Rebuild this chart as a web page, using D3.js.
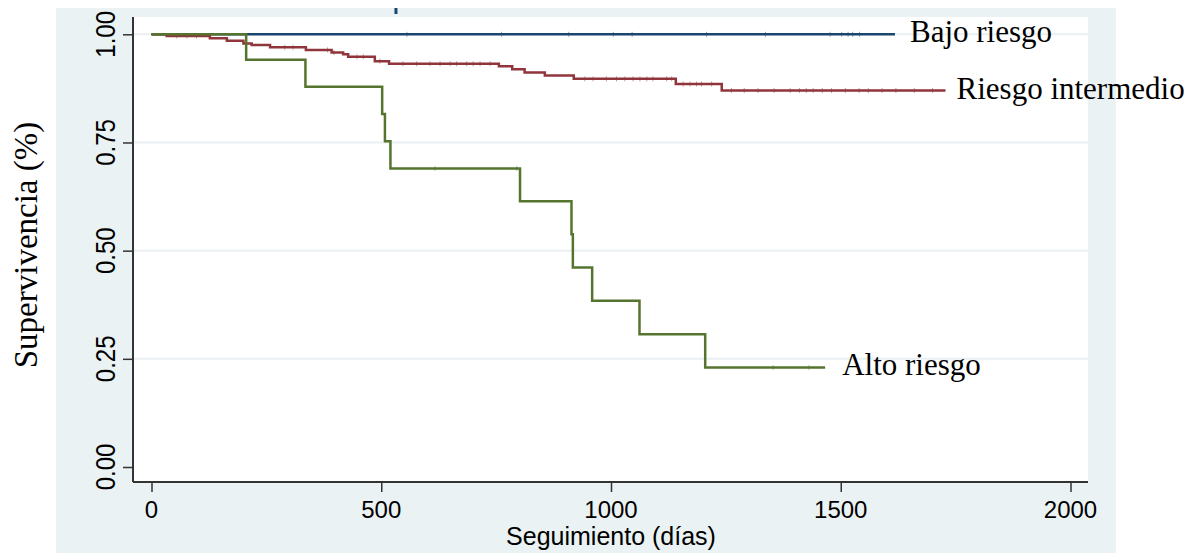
<!DOCTYPE html>
<html>
<head>
<meta charset="utf-8">
<script src="https://cdn.jsdelivr.net/npm/d3@7/dist/d3.min.js"></script>
<style>
    body { margin: 0; background: #fff; }
    svg { display: block; }
</style>
</head>
<body>
<svg id="chart" width="1200" height="553"></svg>
<script>
// Kaplan-Meier: supervivencia por grupo de riesgo

// step times (days) and survival after each step, last point = end of follow-up
var bajoTimes = [0, 1618];
var bajoSurv = [1, 1];
var bajoCensor = [556, 762, 908, 1005, 1046, 1208, 1336, 1477, 1502, 1516, 1526, 1541];

var interTimes = [0, 33, 127, 164, 200, 218, 258, 336, 392, 417, 428, 486, 517, 756, 785, 812, 856, 919, 1141, 1241, 1728];
var interSurv = [1, 0.996, 0.991, 0.985, 0.979, 0.975, 0.970, 0.964, 0.958, 0.954, 0.948, 0.938, 0.932, 0.926, 0.919, 0.912, 0.905, 0.897, 0.885, 0.870, 0.870];
var interCensor = [55, 77, 98, 290, 308, 383, 397, 447, 461, 497, 547, 577, 606, 628, 650, 664, 686, 700, 715, 737,
    943, 961, 990, 1012, 1030, 1048, 1063, 1078, 1091, 1121, 1132, 1157, 1172, 1186, 1197, 1219,
    1262, 1290, 1320, 1355, 1390, 1410, 1425, 1440, 1460, 1480, 1510, 1540, 1560, 1590, 1620, 1660, 1700];

var altoTimes = [0, 206, 335, 502, 508, 520, 802, 914, 917, 959, 1062, 1205, 1466];
var altoSurv = [1, 0.941, 0.879, 0.816, 0.753, 0.690, 0.614, 0.538, 0.461, 0.384, 0.307, 0.230, 0.230];
var altoCensor = [617, 795, 1353, 1431];

var seriesNames = ["Bajo riesgo", "Riesgo intermedio", "Alto riesgo"];
var xTicks = [0, 500, 1000, 1500, 2000];
var yTicks = [0, 0.25, 0.5, 0.75, 1];
var yTickLabels = ["0.00", "0.25", "0.50", "0.75", "1.00"];
var xTitle = "Seguimiento (días)";
var yTitle = "Supervivencia (%)";

(function(d3) {

    var svg = d3.select("#chart");

    var plot = { left: 133, right: 1088, top: 17, bottom: 482 };

    var x = d3.scaleLinear().domain([0, 2000]).range([151.5, 1070.5]);
    var y = d3.scaleLinear().domain([0, 1]).range([467, 34.3]);

    var series = [
        { name: seriesNames[0], times: bajoTimes, surv: bajoSurv, censor: bajoCensor, color: "#1a476f", gap: 15 },
        { name: seriesNames[1], times: interTimes, surv: interSurv, censor: interCensor, color: "#90353b", gap: 11 },
        { name: seriesNames[2], times: altoTimes, surv: altoSurv, censor: altoCensor, color: "#55752f", gap: 17 }
    ];

    // graph region + plot region
    svg.append("rect")
        .attr("x", 56).attr("y", 8)
        .attr("width", 1060).attr("height", 545)
        .attr("fill", "#eaf2f3");

    svg.append("rect")
        .attr("x", plot.left).attr("y", plot.top)
        .attr("width", plot.right - plot.left).attr("height", plot.bottom - plot.top)
        .attr("fill", "#fff");

    // gridlines
    svg.append("g").selectAll("line")
        .data(yTicks.filter(function(d) { return d > 0; }))
        .enter().append("line")
        .attr("x1", plot.left).attr("x2", plot.right)
        .attr("y1", function(d) { return y(d); })
        .attr("y2", function(d) { return y(d); })
        .attr("stroke", "#e9f0f2")
        .attr("stroke-width", 2);

    // stray mark above the plot
    svg.append("rect")
        .attr("x", x(532) - 1.5).attr("y", 8)
        .attr("width", 3).attr("height", 6)
        .attr("fill", "#1a476f");

    // axes
    var yAxis = d3.axisLeft(y).tickValues(yTicks).tickSize(10).tickFormat("");
    var yG = svg.append("g").attr("transform", "translate(" + plot.left + ",0)").call(yAxis);
    yG.select(".domain").remove();
    yG.selectAll(".tick line").attr("stroke", "#333").attr("stroke-width", 1.5);
    yG.append("line")
        .attr("x1", 0).attr("x2", 0)
        .attr("y1", plot.top).attr("y2", plot.bottom)
        .attr("stroke", "#333").attr("stroke-width", 2);

    var xAxis = d3.axisBottom(x).tickValues(xTicks).tickSize(10).tickFormat("");
    var xG = svg.append("g").attr("transform", "translate(0," + plot.bottom + ")").call(xAxis);
    xG.select(".domain").remove();
    xG.selectAll(".tick line").attr("stroke", "#333").attr("stroke-width", 1.5);
    xG.append("line")
        .attr("x1", plot.left).attr("x2", plot.right)
        .attr("y1", 0).attr("y2", 0)
        .attr("stroke", "#333").attr("stroke-width", 2);

    // tick labels (the y ones look a bit stretched sideways in the original)
    svg.append("g").selectAll("text")
        .data(yTicks)
        .enter().append("text")
        .attr("transform", function(d) { return "translate(115," + y(d) + ") scale(1.16,1) rotate(-90)"; })
        .attr("text-anchor", "middle")
        .attr("font-family", "'Liberation Sans', Arial, sans-serif")
        .attr("font-size", 24)
        .attr("fill", "#000")
        .text(function(d, i) { return yTickLabels[i]; });

    svg.append("g").selectAll("text")
        .data(xTicks)
        .enter().append("text")
        .attr("x", function(d) { return x(d); })
        .attr("y", 518)
        .attr("text-anchor", "middle")
        .attr("font-family", "'Liberation Sans', Arial, sans-serif")
        .attr("font-size", 24)
        .attr("fill", "#000")
        .text(function(d) { return d; });

    // axis titles
    svg.append("text")
        .attr("x", x(1000)).attr("y", 545)
        .attr("text-anchor", "middle")
        .attr("font-family", "'Liberation Sans', Arial, sans-serif")
        .attr("font-size", 25)
        .text(xTitle);

    svg.append("text")
        .attr("transform", "translate(37,245) rotate(-90)")
        .attr("text-anchor", "middle")
        .attr("font-family", "'Liberation Serif', 'Times New Roman', serif")
        .attr("font-size", 33)
        .text(yTitle);

    // curves
    var line = d3.line()
        .x(function(d) { return x(d[0]); })
        .y(function(d) { return y(d[1]); })
        .curve(d3.curveStepAfter);

    var survAt = function(s, t) {
        var i = d3.bisectRight(s.times, t) - 1;
        return s.surv[Math.max(0, i)];
    };

    series.forEach(function(s) {
        var pts = s.times.map(function(t, i) { return [t, s.surv[i]]; });
        var g = svg.append("g").attr("class", "curve");

        g.append("path")
            .attr("d", line(pts))
            .attr("fill", "none")
            .attr("stroke", s.color)
            .attr("stroke-width", 2.5);

        g.selectAll("line.censor")
            .data(s.censor)
            .enter().append("line")
            .attr("class", "censor")
            .attr("x1", function(d) { return x(d); })
            .attr("x2", function(d) { return x(d); })
            .attr("y1", function(d) { return y(survAt(s, d)) - 2.5; })
            .attr("y2", function(d) { return y(survAt(s, d)) + 2.5; })
            .attr("stroke", s.color)
            .attr("stroke-opacity", 0.5)
            .attr("stroke-width", 1);

        var last = s.times.length - 1;
        g.append("text")
            .attr("x", x(s.times[last]) + s.gap)
            .attr("y", y(s.surv[last]) + 8)
            .attr("font-family", "'Liberation Serif', 'Times New Roman', serif")
            .attr("font-size", 31)
            .attr("fill", "#000")
            .text(s.name);
    });

})(d3);
</script>
</body>
</html>
